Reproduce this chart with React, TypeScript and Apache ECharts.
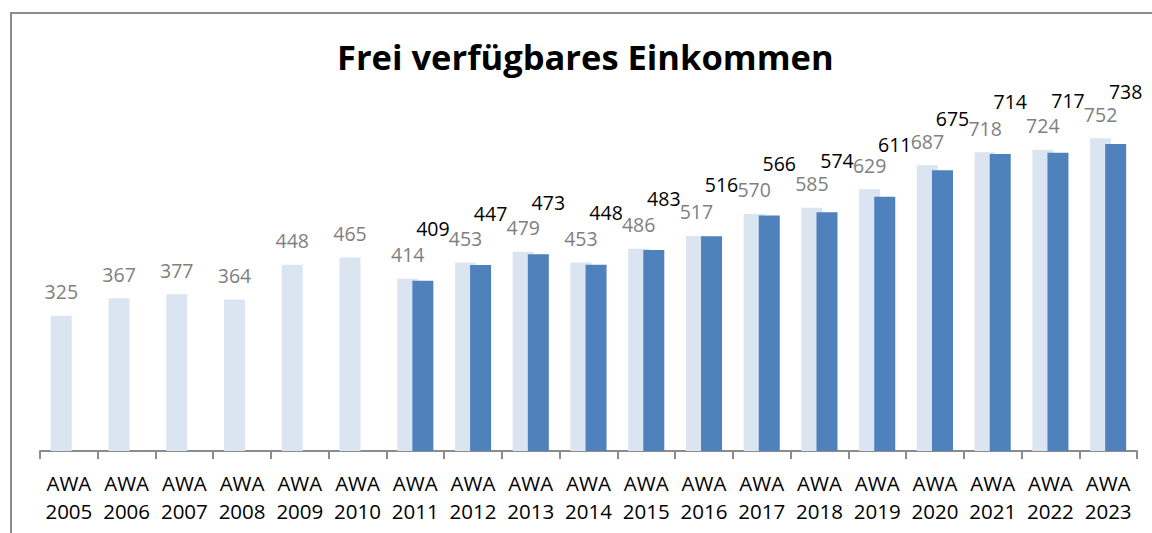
import React, { useEffect, useRef } from "react";
import * as echarts from "echarts";

const years = ["2005","2006","2007","2008","2009","2010","2011","2012","2013","2014","2015","2016","2017","2018","2019","2020","2021","2022","2023"];
const categories = years.map((y) => "AWA\n" + y);
const lightValues = [325,367,377,364,448,465,414,453,479,453,486,517,570,585,629,687,718,724,752];
const darkValues: (number | null)[] = [null,null,null,null,null,null,409,447,473,448,483,516,566,574,611,675,714,717,738];
const titleText = "Frei verfügbares Einkommen";

const FONT = "'Open Sans', 'Noto Sans', sans-serif";

export default function App() {
  const ref = useRef<HTMLDivElement>(null);
  useEffect(() => {
    if (!ref.current) return;
    const chart = echarts.init(ref.current, undefined, { renderer: "svg" });
    chart.setOption({
      animation: false,
      backgroundColor: "#ffffff",
      textStyle: { fontFamily: FONT },
      title: {
        text: titleText,
        left: 332,
        top: 34,
        textStyle: { fontFamily: FONT, fontSize: 34.5, fontWeight: "bold", color: "#000000" },
      },
      graphic: [
        {
          type: "rect",
          shape: { x: 11, y: 13, width: 1300, height: 700 },
          style: { fill: "none", stroke: "#8c8c8c", lineWidth: 2 },
          silent: true,
        },
      ],
      grid: { left: 40, right: 15, top: 35, bottom: 82, containLabel: false },
      xAxis: {
        type: "category",
        data: categories,
        axisLine: { lineStyle: { color: "#8c8c8c", width: 2 } },
        axisTick: { show: true, length: 8, lineStyle: { color: "#8c8c8c", width: 2 } },
        axisLabel: {
          fontFamily: FONT,
          fontSize: 20.5,
          lineHeight: 28,
          color: "#000000",
          margin: 18,
          interval: 0,
        },
      },
      yAxis: {
        type: "value",
        min: 0,
        max: 1000,
        show: false,
        splitLine: { show: false },
      },
      series: [
        {
          type: "bar",
          data: lightValues,
          barWidth: 21,
          barGap: "-28%",
          itemStyle: { color: "#dbe4f1" },
          label: {
            show: true,
            position: "top",
            distance: 14,
            fontFamily: FONT,
            fontSize: 19.5,
            color: "#808080",
          },
        },
        {
          type: "bar",
          data: darkValues,
          barWidth: 21,
          barGap: "-28%",
          itemStyle: { color: "#4f81bd" },
          label: {
            show: true,
            position: "top",
            distance: 42,
            offset: [10, 0],
            fontFamily: FONT,
            fontSize: 19.5,
            color: "#000000",
          },
        },
      ],
    });
    return () => chart.dispose();
  }, []);
  return (
    <div
      ref={ref}
      style={{ position: "fixed", left: 0, top: 0, width: 1152, height: 533 }}
    />
  );
}
